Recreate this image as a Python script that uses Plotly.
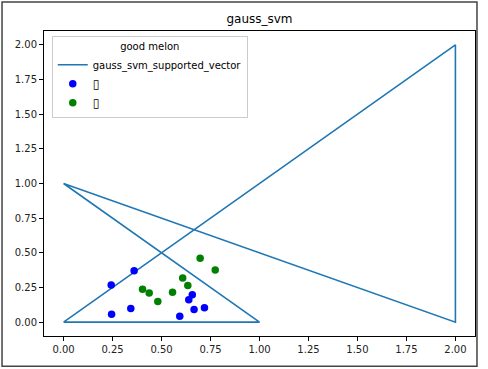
import plotly.graph_objects as go

# support-vector boundary path
sv_x = [0, 1, 0, 2, 2, 0]
sv_y = [0, 0, 1, 0, 2, 0]

# bad melons (blue)
bad_density = [0.666, 0.243, 0.245, 0.343, 0.639, 0.657, 0.360, 0.593, 0.719]
bad_sugar = [0.091, 0.267, 0.057, 0.099, 0.161, 0.198, 0.370, 0.042, 0.103]

# good melons (green)
good_density = [0.697, 0.774, 0.634, 0.608, 0.556, 0.403, 0.481, 0.437]
good_sugar = [0.460, 0.376, 0.264, 0.318, 0.215, 0.237, 0.149, 0.211]

label_bad = "\u25af"
label_good = "\u25af"

tick_vals = [0, 0.25, 0.5, 0.75, 1.0, 1.25, 1.5, 1.75, 2.0]

font = "DejaVu Sans"


def glyph(s):
    return "<span style='font-size:12px'>" + s + "</span>"


fig = go.Figure()
fig.add_trace(go.Scatter(x=sv_x, y=sv_y, mode="lines",
                         line=dict(color="#1f77b4", width=1.6),
                         name="gauss_svm_supported_vector"))
fig.add_trace(go.Scatter(x=bad_density, y=bad_sugar, mode="markers",
                         marker=dict(color="blue", size=7.5), name=glyph(label_bad)))
fig.add_trace(go.Scatter(x=good_density, y=good_sugar, mode="markers",
                         marker=dict(color="green", size=7.5), name=glyph(label_good)))

axis_common = dict(showgrid=False, zeroline=False, showline=True, mirror=True,
                   linecolor="black", linewidth=1, ticks="outside", ticklen=4,
                   tickcolor="black", tickvals=tick_vals, tickformat=".2f",
                   tickfont=dict(family=font, size=10, color="#222222"),
                   automargin=False)

fig.update_layout(
    width=488, height=369,
    margin=dict(l=44, r=13, t=31, b=33),
    paper_bgcolor="white", plot_bgcolor="white",
    title=dict(text="gauss_svm", x=0.5, xref="paper", xanchor="center",
               y=1 - 19 / 369, yref="container", yanchor="middle",
               font=dict(family=font, size=12, color="black")),
    xaxis=dict(range=[-0.1, 2.1], **axis_common),
    yaxis=dict(range=[-0.1, 2.1], **axis_common),
    legend=dict(x=0.018, y=0.983, xanchor="left", yanchor="top",
                bgcolor="rgba(255,255,255,0.8)", bordercolor="#cccccc", borderwidth=1,
                font=dict(family=font, size=10, color="black"),
                title=dict(text="good melon", side="top center",
                           font=dict(family=font, size=10, color="black")),
                itemwidth=30, tracegroupgap=0),
    showlegend=True,
)

# outer figure frame
fig.add_shape(type="rect", xref="paper", yref="paper",
              x0=-0.0974, x1=1.0046, y0=-0.099, y1=1.095,
              line=dict(color="#444444", width=1.5), layer="below")

fig.write_html("out.html", config={"displayModeBar": False},
               post_script="document.body.style.margin='0px';")
